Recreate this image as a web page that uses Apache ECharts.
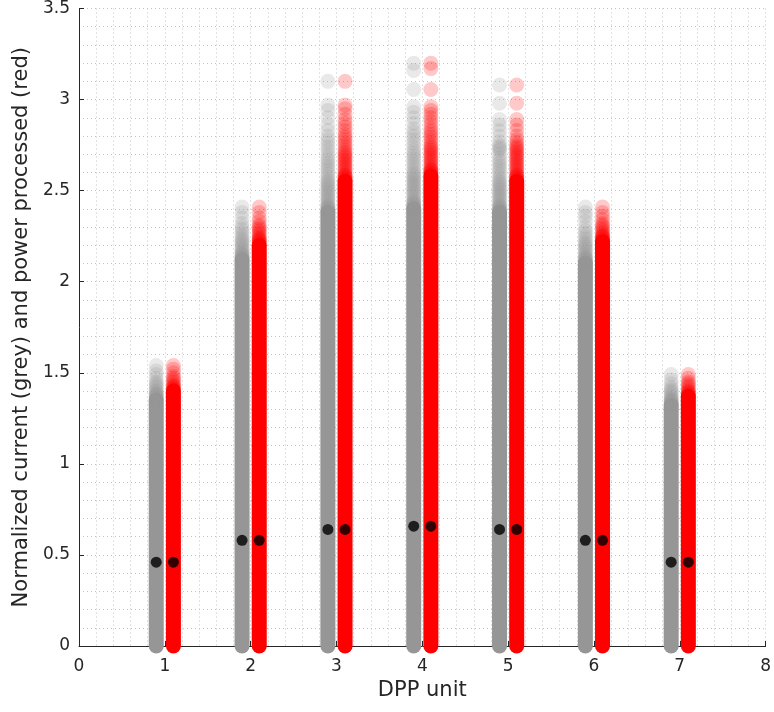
<!DOCTYPE html>
<html>
<head>
<meta charset="utf-8">
<script src="https://cdn.jsdelivr.net/npm/echarts@6/dist/echarts.min.js"></script>
<style>html,body{margin:0;padding:0;background:#fff}#c{width:774px;height:712px}</style>
</head>
<body>
<div id="c"></div>
<script>
// DPP units
const units = [1, 2, 3, 4, 5, 6, 7];
// mean values (black dots)
const greyMean = [0.46, 0.58, 0.64, 0.658, 0.64, 0.58, 0.46];
const redMean = [0.46, 0.58, 0.64, 0.658, 0.64, 0.58, 0.46];
// level up to which samples are densely packed (solid column)
const greyBody = [1.35, 2.12, 2.38, 2.40, 2.38, 2.10, 1.32];
const redBody = [1.40, 2.20, 2.55, 2.58, 2.55, 2.22, 1.37];
// sparser upper samples
const greyTail1 = [1.355, 1.36, 1.365, 1.37, 1.375, 1.38, 1.385, 1.39, 1.40, 1.41, 1.42, 1.43, 1.44, 1.45, 1.47, 1.49, 1.51, 1.54];
const greyTail2 = [2.125, 2.13, 2.135, 2.14, 2.145, 2.15, 2.155, 2.16, 2.17, 2.18, 2.19, 2.20, 2.21, 2.22, 2.23, 2.24,
  2.255, 2.27, 2.285, 2.30, 2.32, 2.35, 2.38, 2.41];
const greyTail3 = [2.385, 2.39, 2.395, 2.40, 2.405, 2.41, 2.415, 2.42, 2.43, 2.44, 2.45, 2.46, 2.47, 2.48, 2.49, 2.50, 2.51, 2.52, 2.53, 2.54, 2.55, 2.56,
  2.575, 2.59, 2.605, 2.62, 2.635, 2.65, 2.665, 2.68, 2.70, 2.72, 2.74, 2.76, 2.78, 2.80, 2.83, 2.86, 2.90, 2.94, 2.97, 3.10];
const greyTail4 = [2.405, 2.41, 2.415, 2.42, 2.425, 2.43, 2.435, 2.44, 2.45, 2.46, 2.47, 2.48, 2.49, 2.50, 2.51, 2.52, 2.53, 2.54, 2.55, 2.56, 2.57, 2.58, 2.59, 2.60,
  2.615, 2.63, 2.645, 2.66, 2.675, 2.69, 2.705, 2.72, 2.74, 2.76, 2.78, 2.80, 2.82, 2.84, 2.87, 2.90, 2.93, 2.96, 3.055, 3.16, 3.20];
const greyTail5 = [2.385, 2.39, 2.395, 2.40, 2.405, 2.41, 2.415, 2.42, 2.43, 2.44, 2.45, 2.46, 2.47, 2.48, 2.49, 2.50, 2.51, 2.52, 2.53, 2.54, 2.55, 2.56,
  2.575, 2.59, 2.605, 2.62, 2.635, 2.65, 2.665, 2.68, 2.70, 2.72, 2.73, 2.74, 2.75, 2.77, 2.80, 2.83, 2.86, 2.89, 2.98, 3.08];
const greyTail6 = [2.105, 2.11, 2.115, 2.12, 2.125, 2.13, 2.135, 2.14, 2.15, 2.16, 2.17, 2.18, 2.19, 2.20, 2.21, 2.22,
  2.235, 2.25, 2.265, 2.28, 2.30, 2.33, 2.36, 2.38, 2.41];
const greyTail7 = [1.325, 1.33, 1.335, 1.34, 1.345, 1.35, 1.355, 1.36, 1.37, 1.38, 1.39, 1.40, 1.41, 1.42, 1.44, 1.46, 1.49];
const redTail1 = [1.405, 1.41, 1.415, 1.42, 1.425, 1.43, 1.44, 1.45, 1.46, 1.47, 1.48, 1.50, 1.52, 1.54];
const redTail2 = [2.205, 2.21, 2.215, 2.22, 2.225, 2.23, 2.235, 2.24, 2.25, 2.26, 2.27, 2.28, 2.29, 2.30, 2.31, 2.33, 2.35, 2.38, 2.41];
const redTail3 = [2.555, 2.56, 2.565, 2.57, 2.575, 2.58, 2.585, 2.59, 2.60, 2.61, 2.62, 2.63, 2.64, 2.65, 2.66, 2.67, 2.68, 2.69, 2.70, 2.71, 2.72,
  2.735, 2.75, 2.765, 2.78, 2.795, 2.81, 2.83, 2.85, 2.87, 2.89, 2.92, 2.95, 2.97, 3.10];
const redTail4 = [2.585, 2.59, 2.595, 2.60, 2.605, 2.61, 2.615, 2.62, 2.63, 2.64, 2.65, 2.66, 2.67, 2.68, 2.69, 2.70, 2.71, 2.72, 2.73, 2.74, 2.75,
  2.765, 2.78, 2.795, 2.81, 2.825, 2.84, 2.86, 2.88, 2.90, 2.92, 2.94, 2.96, 3.055, 3.17, 3.20];
const redTail5 = [2.555, 2.56, 2.565, 2.57, 2.575, 2.58, 2.585, 2.59, 2.60, 2.61, 2.62, 2.63, 2.64, 2.65, 2.66, 2.67, 2.68, 2.69, 2.70, 2.71, 2.72,
  2.73, 2.74, 2.75, 2.765, 2.78, 2.80, 2.83, 2.86, 2.89, 2.98, 3.08];
const redTail6 = [2.225, 2.23, 2.235, 2.24, 2.245, 2.25, 2.255, 2.26, 2.27, 2.28, 2.29, 2.30, 2.31, 2.32, 2.34, 2.36, 2.38, 2.41];
const redTail7 = [1.375, 1.38, 1.385, 1.39, 1.395, 1.40, 1.41, 1.42, 1.43, 1.44, 1.45, 1.47, 1.49];
const greyTails = [greyTail1, greyTail2, greyTail3, greyTail4, greyTail5, greyTail6, greyTail7];
const redTails = [redTail1, redTail2, redTail3, redTail4, redTail5, redTail6, redTail7];
// axis ticks
const xTicks = [0, 1, 2, 3, 4, 5, 6, 7, 8];
const yTicks = [0, 0.5, 1, 1.5, 2, 2.5, 3, 3.5];

const OFFSET = 0.1;
const GREY = '#969696', RED = '#ff0000';
const SIZE = 15;
const series = [];
units.forEach((u, i) => {
  [[u - OFFSET, greyBody[i], GREY], [u + OFFSET, redBody[i], RED]].forEach(([x, top, col]) => {
    series.push({
      type: 'line', data: [[x, 0], [x, top]], showSymbol: false, symbol: 'none', clip: false, silent: true,
      lineStyle: { color: col, width: SIZE, cap: 'round' }, z: 2
    });
  });
});
const greyPts = [], redPts = [];
units.forEach((u, i) => {
  greyTails[i].forEach(v => greyPts.push([u - OFFSET, v]));
  redTails[i].forEach(v => redPts.push([u + OFFSET, v]));
});
series.push({ type: 'scatter', data: greyPts, symbol: 'circle', symbolSize: SIZE, itemStyle: { color: GREY, opacity: 0.21 }, silent: true, z: 3 });
series.push({ type: 'scatter', data: redPts, symbol: 'circle', symbolSize: SIZE, itemStyle: { color: RED, opacity: 0.21 }, silent: true, z: 3 });
series.push({ type: 'scatter', data: units.map((u, i) => [u - OFFSET, greyMean[i]]), symbolSize: 11, itemStyle: { color: '#000' }, silent: true, z: 5 });
series.push({ type: 'scatter', data: units.map((u, i) => [u + OFFSET, redMean[i]]), symbolSize: 11, itemStyle: { color: '#000' }, silent: true, z: 5 });

const FONT = 'DejaVu Sans, sans-serif';
const gridDot = { color: '#c4c4c4', width: 1, type: [1, 3] };
const chart = echarts.init(document.getElementById('c'), null, { renderer: 'canvas' });
chart.setOption({
  animation: false,
  backgroundColor: '#fff',
  grid: { left: 79, right: 7, top: 8, bottom: 66, containLabel: false },
  xAxis: {
    type: 'value', min: xTicks[0], max: xTicks[xTicks.length - 1], interval: 1,
    name: 'DPP unit', nameLocation: 'middle', nameGap: 34,
    nameTextStyle: { fontFamily: FONT, fontSize: 21, color: '#262626' },
    axisLine: { show: true, onZero: false, lineStyle: { color: '#262626', width: 1 } },
    axisTick: { show: true, inside: true, length: 5, lineStyle: { color: '#262626' } },
    axisLabel: { fontFamily: FONT, fontSize: 17, color: '#262626', margin: 12 },
    splitLine: { show: true, lineStyle: gridDot },
    minorTick: { show: false, splitNumber: 5 },
    minorSplitLine: { show: true, lineStyle: gridDot }
  },
  yAxis: {
    type: 'value', min: yTicks[0], max: yTicks[yTicks.length - 1], interval: 0.5,
    name: 'Normalized current (grey) and power processed (red)', nameLocation: 'middle', nameGap: 45,
    nameTextStyle: { fontFamily: FONT, fontSize: 21, color: '#262626' },
    axisLine: { show: true, lineStyle: { color: '#262626', width: 1 } },
    axisTick: { show: true, inside: true, length: 5, lineStyle: { color: '#262626' } },
    axisLabel: { fontFamily: FONT, fontSize: 17, color: '#262626', margin: 9 },
    splitLine: { show: true, lineStyle: gridDot },
    minorTick: { show: false, splitNumber: 5 },
    minorSplitLine: { show: true, lineStyle: gridDot }
  },
  series: series
});
</script>
</body>
</html>
